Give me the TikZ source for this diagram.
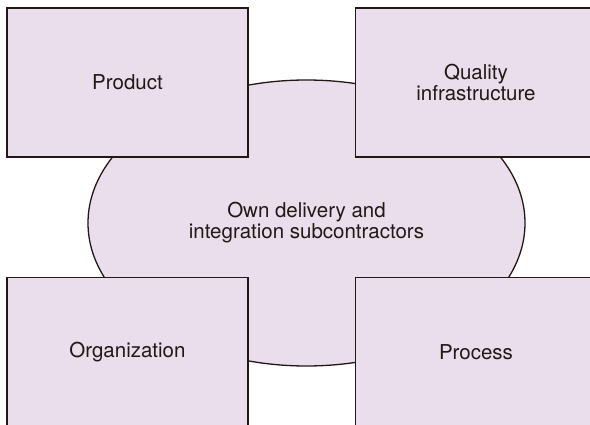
\documentclass[tikz,border=0pt]{standalone}
\usepackage{fontspec}
\setmainfont{TeX Gyre Heros}
\usetikzlibrary{shapes.geometric}
\definecolor{fillc}{HTML}{EADDEC}
\definecolor{linec}{HTML}{231815}
\tikzset{
  boxstyle/.style={draw=linec, fill=fillc, line width=1.3pt, rectangle, minimum width=241pt, minimum height=149pt, inner sep=0pt, align=center, font=\fontsize{20.5}{21}\selectfont, text=linec},
  ellstyle/.style={draw=linec, fill=fillc, line width=1.3pt, ellipse, minimum width=437pt, minimum height=286pt, inner sep=0pt, align=center, font=\fontsize{20.5}{21}\selectfont, text=linec}
}
\begin{document}
\begin{tikzpicture}[x=1pt,y=-1pt]
\useasboundingbox (0,0) rectangle (590,425);
\clip (0,0) rectangle (590,425);
\fill[white] (0,0) rectangle (590,425);
\node[ellstyle] (core) at (306.5,223) {Own delivery and\\integration subcontractors};
\node[boxstyle] (product) at (127.5,82.5) {Product};
\node[boxstyle] (quality) at (476,82.5) {Quality\\infrastructure};
\node[boxstyle] (org) at (127.5,352) {Organization};
\node[boxstyle] (process) at (476,352) {Process};
\end{tikzpicture}
\end{document}
